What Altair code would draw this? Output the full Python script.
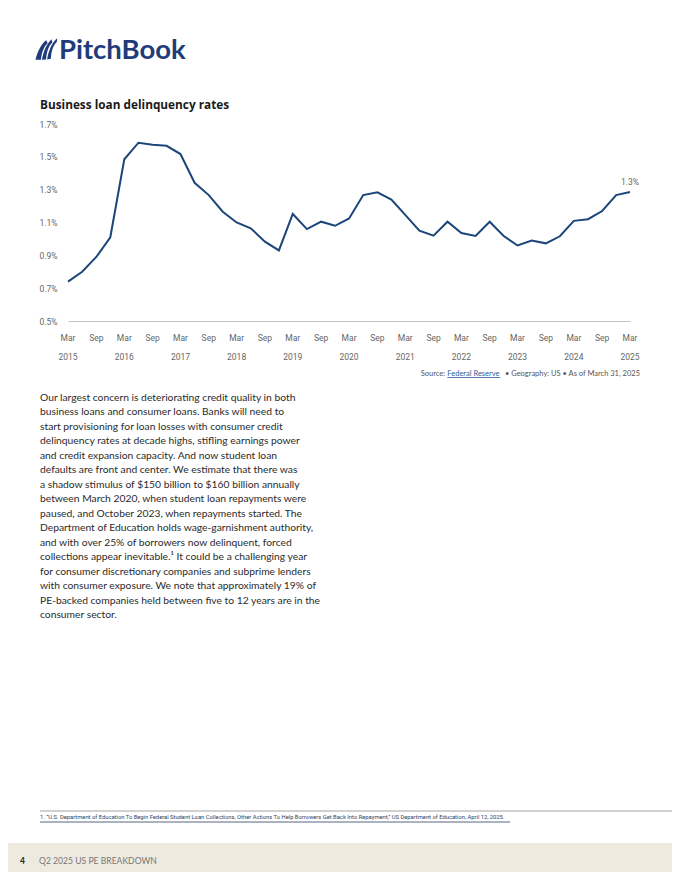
import altair as alt
import pandas as pd

# ---------------- data ----------------
dates = pd.date_range("2015-03-01", periods=41, freq="3MS").strftime("%Y-%m-%d").tolist()
rates = [0.74, 0.80, 0.89, 1.01, 1.485, 1.586, 1.574, 1.567, 1.517, 1.342,
         1.267, 1.166, 1.10, 1.065, 0.983, 0.93, 1.152, 1.06, 1.105, 1.08,
         1.125, 1.267, 1.284, 1.24, 1.146, 1.05, 1.02, 1.105, 1.036, 1.018,
         1.105, 1.018, 0.96, 0.99, 0.973, 1.016, 1.11, 1.12, 1.17, 1.267, 1.286]
y_ticks = [0.5, 0.7, 0.9, 1.1, 1.3, 1.5, 1.7]
tick_dates = pd.date_range("2015-03-01", "2025-03-01", freq="6MS")
tick_months = [d.strftime("%b") for d in tick_dates]
tick_years = [d.strftime("%Y") if d.month == 3 else "" for d in tick_dates]

title_text = "Business loan delinquency rates"
logo_text = "PitchBook"
source_parts = ["Source: ", "Federal Reserve", "\u2022 Geography: US  \u2022  As of March 31, 2025"]
body_lines = [
    "Our largest concern is deteriorating credit quality in both",
    "business loans and consumer loans. Banks will need to",
    "start provisioning for loan losses with consumer credit",
    "delinquency rates at decade highs, stifling earnings power",
    "and credit expansion capacity. And now student loan",
    "defaults are front and center. We estimate that there was",
    "a shadow stimulus of $150 billion to $160 billion annually",
    "between March 2020, when student loan repayments were",
    "paused, and October 2023, when repayments started. The",
    "Department of Education holds wage-garnishment authority,",
    "and with over 25% of borrowers now delinquent, forced",
    "collections appear inevitable.\u00b9 It could be a challenging year",
    "for consumer discretionary companies and subprime lenders",
    "with consumer exposure. We note that approximately 19% of",
    "PE-backed companies held between five to 12 years are in the",
    "consumer sector.",
]
footnote_text = ("1. \u201cU.S. Department of Education To Begin Federal Student Loan Collections, "
                 "Other Actions To Help Borrowers Get Back Into Repayment,\u201d US Department of Education, April 12, 2025.")
page_no = "4"
footer_text = "Q2 2025 US PE BREAKDOWN"

# ---------------- styling ----------------
W, H = 664, 864
NAVY = "#1f3b7a"
LINE = "#1c4679"
AXF = "'Liberation Sans Narrow', 'Roboto', sans-serif"
BODYF = "Lato"
AXC = "#666666"

df = pd.DataFrame({"date": dates, "rate": rates})
last = df.tail(1).copy()
last["label"] = last["rate"].map(lambda v: f"{v:.1f}%")
ticks_df = pd.DataFrame({"date": tick_dates.strftime("%Y-%m-%d"), "mon": tick_months, "yr": tick_years})

xscale = alt.Scale(type="utc", domain=[dates[0], dates[-1]], range=[60, 622])
yscale = alt.Scale(domain=[0.5, 1.7], range=[313, 116])

xaxis = alt.Axis(orient="bottom", offset=-(H - 313), domainColor="#c4c4c4", domainWidth=1,
                 ticks=False, labels=False, grid=False, title=None)
yaxis = alt.Axis(values=y_ticks, labelExpr="format(datum.value, '.1f') + '%'",
                 orient="left", offset=-49, domain=False, ticks=False, tickSize=0, grid=False,
                 labelPadding=0, labelFont=AXF, labelFontSize=8.5, labelColor=AXC,
                 labelOverlap=False, title=None)

line = alt.Chart(df).mark_line(color=LINE, strokeWidth=2).encode(
    x=alt.X("date:T", scale=xscale, axis=xaxis),
    y=alt.Y("rate:Q", scale=yscale, axis=yaxis),
)
end_label = alt.Chart(last).mark_text(font=AXF, fontSize=8.5, color=AXC, dy=-10, align="center").encode(
    x=alt.X("date:T", scale=xscale),
    y=alt.Y("rate:Q", scale=yscale),
    text="label:N",
)
month_labels = alt.Chart(ticks_df).mark_text(font=AXF, fontSize=8.5, color=AXC, align="center",
                                             baseline="middle").encode(
    x=alt.X("date:T", scale=xscale),
    y=alt.value(330),
    text="mon:N",
)
year_labels = alt.Chart(ticks_df).mark_text(font=AXF, fontSize=8.5, color=AXC, align="center",
                                            baseline="middle").encode(
    x=alt.X("date:T", scale=xscale),
    y=alt.value(349),
    text="yr:N",
)

one = pd.DataFrame({"k": [0]})


def txt(text, x, y, size, color, font=BODYF, weight="normal", align="left", baseline="alphabetic", lh=None):
    kw = dict(font=font, fontSize=size, color=color, fontWeight=weight, align=align, baseline=baseline)
    if lh is not None:
        kw["lineHeight"] = lh
    return alt.Chart(one).mark_text(**kw).encode(x=alt.value(x), y=alt.value(y), text=alt.value(text))


def rule(x1, x2, y, color, w=1):
    return alt.Chart(one).mark_rule(color=color, strokeWidth=w).encode(
        x=alt.value(x1), x2=alt.value(x2), y=alt.value(y))


band = alt.Chart(one).mark_rect(color="#efeae0").encode(
    x=alt.value(-8), x2=alt.value(W + 8), y=alt.value(835), y2=alt.value(H + 8))

icon_path = ("M -1 1 C -0.8 0.25 -0.5 -0.45 0.0 -0.8 L 0.12 -0.52 C -0.25 -0.2 -0.42 0.35 -0.5 1 Z "
             "M -0.4 1 C -0.28 0.25 0.02 -0.45 0.48 -0.9 L 0.56 -0.6 C 0.2 -0.28 0.02 0.3 -0.02 0.98 Z "
             "M 0.08 0.96 C 0.18 0.25 0.48 -0.55 1 -1 L 0.98 -0.66 C 0.62 -0.32 0.46 0.25 0.42 0.9 Z")
icon = alt.Chart(one).mark_point(shape=icon_path, filled=True, color=NAVY, opacity=1, strokeWidth=0).encode(
    x=alt.value(38.3), y=alt.value(41), size=alt.value(470))

layers = [
    band,
    icon,
    txt(logo_text, 51, 51.3, 27.5, NAVY, weight="bold"),
    txt(title_text, 32, 101, 11.8, "#1a1a1a", font="Open Sans", weight="bold"),
    line,
    end_label,
    month_labels,
    year_labels,
    txt(source_parts[0], 412.7, 367.5, 7.5, "#555555"),
    txt(source_parts[1], 439.3, 367.5, 7.5, "#2d5f9a"),
    rule(439.3, 492.3, 369.5, "#2d5f9a", 0.8),
    txt(source_parts[2], 632, 367.5, 7.5, "#555555", align="right"),
    txt(body_lines, 32, 393, 10.3, "#2b2b2b", lh=14.49),
    rule(32, W + 8, 803, "#8a8a8a", 0.8),
    txt(footnote_text, 32, 811, 5.8, "#2b3f66", font=AXF),
    rule(32, 502, 814, "#2b3f66", 0.8),
    txt(page_no, 12, 856, 8.5, "#222222", weight="bold"),
    txt(footer_text, 31, 856, 8.6, "#777777"),
]

chart = alt.layer(*layers).properties(
    width=W, height=H, autosize="none", padding=0, background="white"
).configure_view(stroke=None)

chart.save("out.html", embed_options={"renderer": "svg", "actions": False})
